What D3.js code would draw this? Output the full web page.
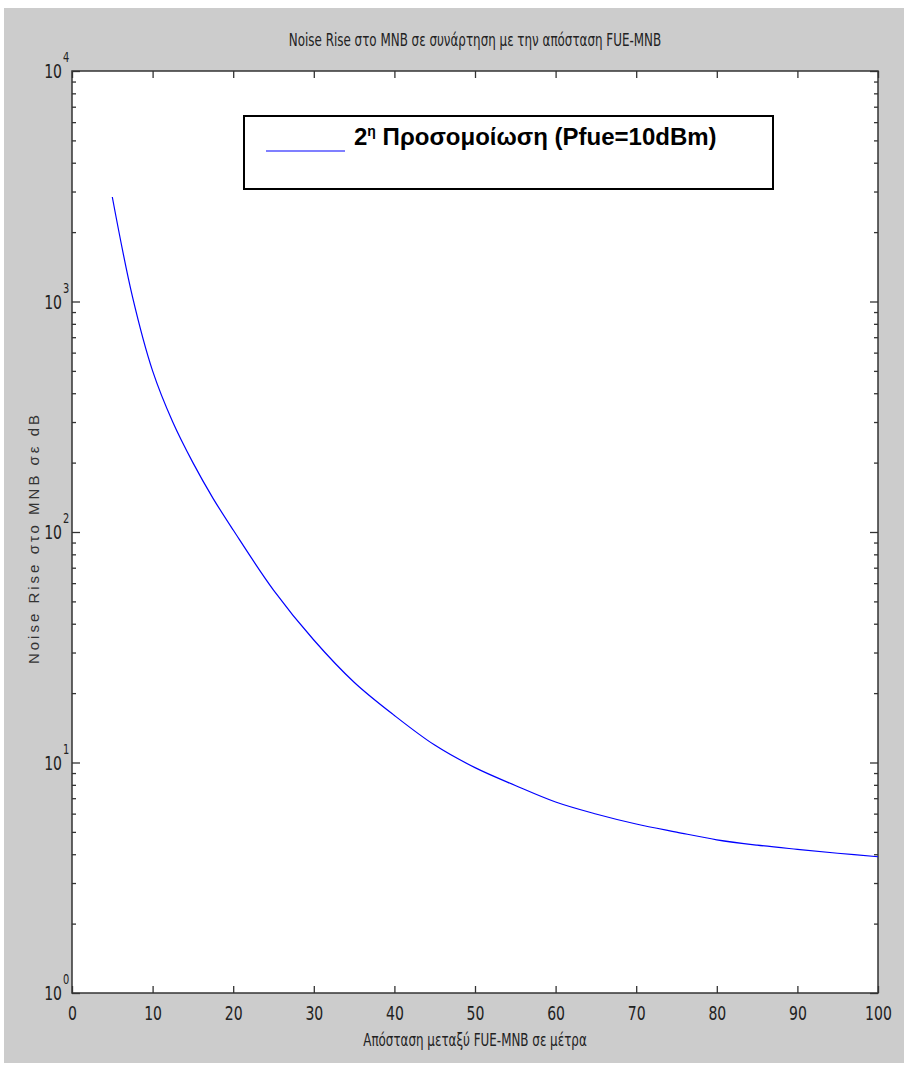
<!DOCTYPE html>
<html>
<head>
<meta charset="utf-8">
<script src="https://cdn.jsdelivr.net/npm/d3@7"></script>
<style>
  body { margin: 0; background: #fff; }
</style>
</head>
<body>
<div id="chart"></div>
<script>
// distance FUE-MNB (m) and noise rise (dB)
const distance = [5, 7.5, 10, 12.5, 15, 17.5, 20, 25, 30, 35, 40, 45, 50, 55, 60, 65, 70, 75, 80, 85, 90, 95, 100];
const noiseRise = [2840, 1050, 500, 300, 200, 140, 102, 56, 34, 22.3, 16, 11.9, 9.5, 7.95, 6.74, 5.98, 5.41, 4.99, 4.62, 4.38, 4.2, 4.04, 3.9];
const xTicks = [0, 10, 20, 30, 40, 50, 60, 70, 80, 90, 100];
const yDecades = [0, 1, 2, 3, 4];

const titleText = "Noise Rise στο MNB σε συνάρτηση με την απόσταση FUE-MNB";
const xLabel = "Απόσταση μεταξύ FUE-MNB σε μέτρα";
const yLabel = "Noise Rise στο MNB σε dB";
const legendLabel = "Προσομοίωση (Pfue=10dBm)";

const width = 904, height = 1067;
const mLeft = 72, mRight = 878, mTop = 71, mBottom = 993;
const narrow = '"Liberation Sans Narrow", "DejaVu Sans Condensed", "Arial Narrow", sans-serif';

const svg = d3.select("#chart").append("svg")
    .attr("width", width)
    .attr("height", height);

// figure background
svg.append("rect")
    .attr("x", 4).attr("y", 8)
    .attr("width", width - 4).attr("height", height - 12)
    .attr("fill", "#cccccc");

svg.append("rect")
    .attr("x", mLeft).attr("y", mTop)
    .attr("width", mRight - mLeft).attr("height", mBottom - mTop)
    .attr("fill", "#fff");

const x = d3.scaleLinear().domain([0, 100]).range([mLeft, mRight]);
const y = d3.scaleLog().domain([1, 10000]).range([mBottom, mTop]);

// minor ticks for log axis
const minor = [];
yDecades.slice(0, -1).forEach(function(e) {
    for (let k = 2; k <= 9; k++) minor.push(k * Math.pow(10, e));
});

// x axis bottom (labels) and top (ticks only)
const xAxis = svg.append("g")
    .attr("transform", `translate(0,${mBottom})`)
    .call(d3.axisBottom(x).tickValues(xTicks).tickSize(-7).tickPadding(13).tickFormat(d3.format("d")));
xAxis.selectAll("text")
    .attr("font-family", narrow)
    .attr("font-size", 20)
    .attr("fill", "#222")
    .attr("transform", "scale(0.78,1)");

svg.append("g")
    .attr("transform", `translate(0,${mTop})`)
    .call(d3.axisTop(x).tickValues(xTicks).tickSize(-7).tickFormat(""));

// y axis left/right: major ticks + minor ticks
const majors = yDecades.map(e => Math.pow(10, e));
svg.append("g")
    .attr("transform", `translate(${mLeft},0)`)
    .call(d3.axisLeft(y).tickValues(majors).tickSize(-8).tickFormat(""));
svg.append("g")
    .attr("transform", `translate(${mLeft},0)`)
    .call(d3.axisLeft(y).tickValues(minor).tickSize(-4).tickFormat(""));
svg.append("g")
    .attr("transform", `translate(${mRight},0)`)
    .call(d3.axisRight(y).tickValues(majors).tickSize(-8).tickFormat(""));
svg.append("g")
    .attr("transform", `translate(${mRight},0)`)
    .call(d3.axisRight(y).tickValues(minor).tickSize(-4).tickFormat(""));

svg.selectAll(".domain").remove();
svg.selectAll(".tick line").attr("stroke", "#333").attr("stroke-width", 1.3);

// y labels 10^n
svg.append("g")
    .selectAll("text")
    .data(yDecades)
    .join("text")
    .attr("transform", d => `translate(62,${y(Math.pow(10, d)) + 7}) scale(0.78,1)`)
    .attr("text-anchor", "end")
    .attr("font-family", narrow)
    .attr("font-size", 20)
    .attr("fill", "#222")
    .text("10");
svg.append("g")
    .selectAll("text")
    .data(yDecades)
    .join("text")
    .attr("transform", d => `translate(63,${y(Math.pow(10, d)) - 9}) scale(0.78,1)`)
    .attr("font-family", narrow)
    .attr("font-size", 14)
    .attr("fill", "#222")
    .text(d => d);

// axes box
svg.append("rect")
    .attr("x", mLeft).attr("y", mTop)
    .attr("width", mRight - mLeft).attr("height", mBottom - mTop)
    .attr("fill", "none")
    .attr("stroke", "#333")
    .attr("stroke-width", 1.5);

// curve
const line = d3.line()
    .x((d, i) => x(distance[i]))
    .y(d => y(d))
    .curve(d3.curveCatmullRom.alpha(0.5));

svg.append("path")
    .datum(noiseRise)
    .attr("d", line)
    .attr("fill", "none")
    .attr("stroke", "#0000ff")
    .attr("stroke-width", 1.2);

// title
svg.append("text")
    .attr("transform", `translate(${(mLeft + mRight) / 2},46) scale(0.78,1)`)
    .attr("text-anchor", "middle")
    .attr("font-family", narrow)
    .attr("font-size", 17)
    .attr("fill", "#222")
    .text(titleText);

// x label
svg.append("text")
    .attr("transform", `translate(${(mLeft + mRight) / 2},1046) scale(0.78,1)`)
    .attr("text-anchor", "middle")
    .attr("font-family", narrow)
    .attr("font-size", 17)
    .attr("fill", "#222")
    .text(xLabel);

// y label
svg.append("text")
    .attr("transform", `translate(39,${(mTop + mBottom) / 2 + 6}) rotate(-90)`)
    .attr("text-anchor", "middle")
    .attr("font-family", "Liberation Sans, Arial, sans-serif")
    .attr("font-size", 15)
    .attr("letter-spacing", 3)
    .attr("fill", "#333")
    .text(yLabel);

// legend
const lg = svg.append("g");
lg.append("rect")
    .attr("x", 244).attr("y", 116)
    .attr("width", 529).attr("height", 73)
    .attr("fill", "#fff")
    .attr("stroke", "#000")
    .attr("stroke-width", 2);
lg.append("line")
    .attr("x1", 266).attr("x2", 345)
    .attr("y1", 151).attr("y2", 151)
    .attr("stroke", "#0000ff")
    .attr("stroke-width", 1.2);
const lt = lg.append("text")
    .attr("x", 354).attr("y", 145)
    .attr("font-family", "Liberation Sans, Arial, sans-serif")
    .attr("font-weight", "bold")
    .attr("font-size", 24)
    .attr("fill", "#000");
lt.append("tspan").text("2");
lt.append("tspan").attr("font-size", 14).attr("dy", -9).text("η");
lt.append("tspan").attr("dy", 9).text(" " + legendLabel);
</script>
</body>
</html>
